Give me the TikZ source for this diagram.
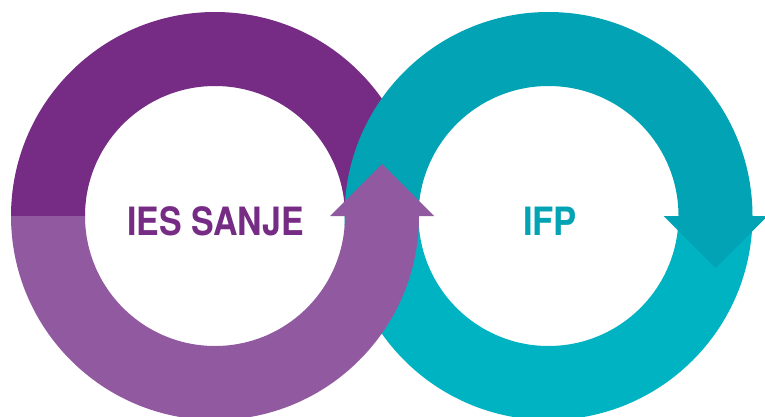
\documentclass[tikz,border=0pt]{standalone}
\usepackage{fontspec}
\setmainfont{TeX Gyre Heros}
\usetikzlibrary{calc}
\definecolor{purpleDark}{HTML}{762C85}
\definecolor{purpleLight}{HTML}{91599F}
\definecolor{tealDark}{HTML}{02A3B4}
\definecolor{tealLight}{HTML}{00B3C2}
\tikzset{
  label text/.style={font=\fontsize{39}{39}\selectfont\bfseries, inner sep=0pt, anchor=base},
}
\begin{document}
\begin{tikzpicture}[x=1pt,y=1pt]
\useasboundingbox (0,0) rectangle (765,416);
\fill[white] (0,0) rectangle (765,416);
\coordinate (L) at (215,200);
\coordinate (R) at (548.5,200);
% left ring, upper half
\fill[purpleDark] ($(L)+(204,0)$) arc[start angle=0,end angle=180,radius=204]
  -- ($(L)+(-130,0)$) arc[start angle=180,end angle=0,radius=130] -- cycle;
% right ring, lower half
\fill[tealLight] ($(R)+(-204,0)$) arc[start angle=180,end angle=360,radius=204]
  -- ($(R)+(130,0)$) arc[start angle=360,end angle=180,radius=130] -- cycle;
% right ring, upper half with arrowhead
\fill[tealDark] ($(R)+(-204,0)$) arc[start angle=180,end angle=0,radius=204]
  -- ($(R)+(219,0)$) -- ($(R)+(167,-52)$) -- ($(R)+(115,0)$)
  -- ($(R)+(130,0)$) arc[start angle=0,end angle=180,radius=130] -- cycle;
% left ring, lower half with arrowhead
\fill[purpleLight] ($(L)+(-204,0)$) arc[start angle=180,end angle=360,radius=204]
  -- ($(L)+(219,0)$) -- ($(L)+(167,52)$) -- ($(L)+(115,0)$)
  -- ($(L)+(130,0)$) arc[start angle=360,end angle=180,radius=130] -- cycle;
\node[label text, text=purpleDark] (ies) at (215.5,181) {\scalebox{0.87}[1]{IES SANJE}};
\node[label text, text=tealDark] (ifp) at (550,181) {\scalebox{0.89}[1]{IFP}};
\end{tikzpicture}
\end{document}
